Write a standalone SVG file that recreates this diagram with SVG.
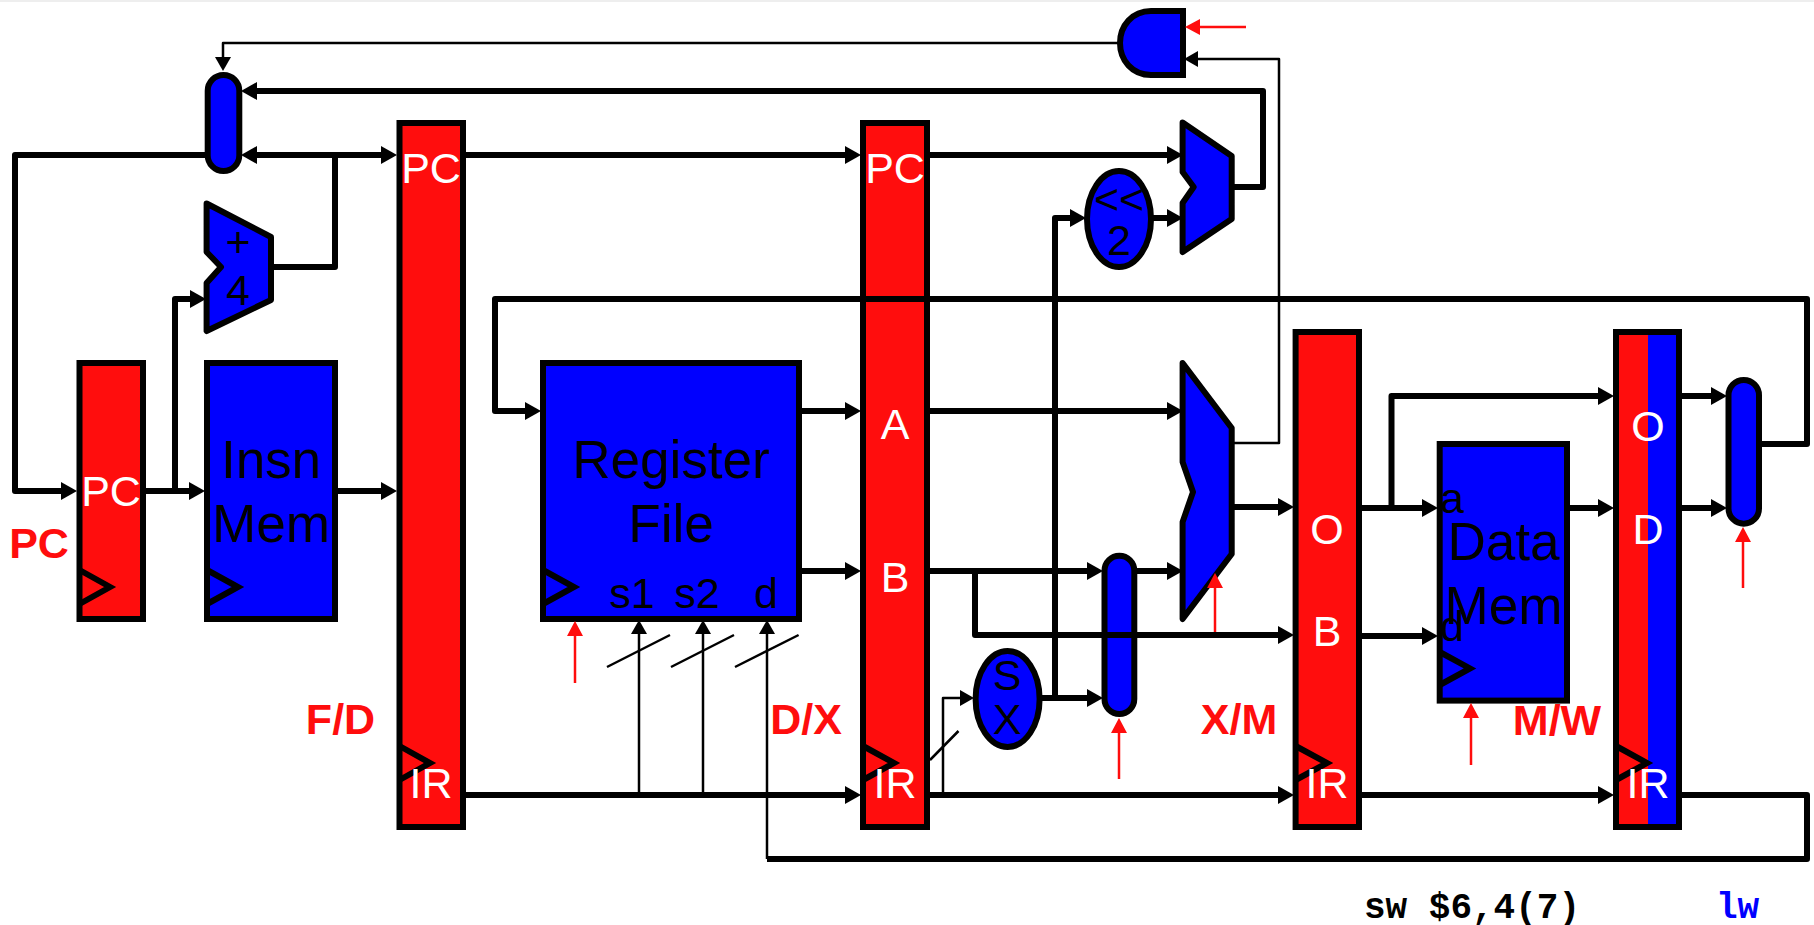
<svg xmlns="http://www.w3.org/2000/svg" width="1814" height="925" viewBox="0 0 1814 925">
<style>
.n{stroke:#000;stroke-width:6;stroke-linejoin:miter}
.r{fill:#ff0d0d}.b{fill:#00f}
.j{stroke-linejoin:round}
.ck{fill:none;stroke:#000;stroke-width:6}
text{font-family:"Liberation Sans",Arial,sans-serif;text-anchor:middle}
.w{fill:#fff;font-size:43px}
.k{fill:#000;font-size:43px}
.l{fill:#000;font-size:53px}
.t{fill:#ff0d0d;font-size:43px;font-weight:bold}
.m{font-family:"Liberation Mono","Courier New",monospace;font-weight:bold;font-size:36px;text-anchor:start}
.c{fill:none;stroke:#000;stroke-linejoin:round}
.c6{stroke-width:6}.c2{stroke-width:2.5}
.rd{fill:none;stroke:#ff0d0d;stroke-width:2.5}
</style>
<defs>
<marker id="a" markerUnits="userSpaceOnUse" viewBox="0 0 16 18" markerWidth="16" markerHeight="18" refX="7" refY="9" orient="auto"><path d="M0 0L16 9L0 18z" fill="#000"/></marker>
<marker id="t" markerUnits="userSpaceOnUse" viewBox="0 0 14 16" markerWidth="14" markerHeight="16" refX="7" refY="8" orient="auto"><path d="M0 0L14 8L0 16z" fill="#000"/></marker>
<marker id="e" markerUnits="userSpaceOnUse" viewBox="0 0 15 16" markerWidth="15" markerHeight="16" refX="8" refY="8" orient="auto"><path d="M0 0L15 8L0 16z" fill="#ff0d0d"/></marker>
</defs>
<rect x="0" y="0" width="1814" height="2" fill="#eeeeee"/>

<g id="pc-reg"><rect class="n r" x="79.5" y="363" width="63.5" height="256"/><path class="ck" d="M79.5 570L110 587L79.5 604"/><text class="w" x="111" y="506">PC</text></g>
<g id="insn-mem"><rect class="n b" x="207" y="363" width="128" height="256"/><path class="ck" d="M207 570L238 587L207 604"/><text class="l" x="271" y="478">Insn</text><text class="l" x="271" y="542">Mem</text></g>
<g id="pc-mux"><rect class="n b" x="207.7" y="75" width="31.6" height="96" rx="15.8"/></g>
<g id="adder"><path class="n b j" d="M206.6 203.5L271 237V300L206.6 331V283L221 267L206.6 252Z"/><text class="k" x="238" y="257">+</text><text class="k" x="238" y="305">4</text></g>
<g id="fd-reg"><rect class="n r" x="399.5" y="123" width="63.5" height="704"/><path class="ck" d="M399.5 746L430 763L399.5 780"/><text class="w" x="431" y="183">PC</text><text class="w" x="431" y="798">IR</text></g>
<g id="reg-file"><rect class="n b" x="543" y="363" width="256" height="256"/><path class="ck" d="M543 570L574 587L543 604"/><text class="l" x="671" y="478">Register</text><text class="l" x="671" y="542">File</text><text class="k" x="632" y="608">s1</text><text class="k" x="697" y="608">s2</text><text class="k" x="766" y="608">d</text></g>
<g id="dx-reg"><rect class="n r" x="863" y="123" width="64" height="704"/><path class="ck" d="M863 746L894 763L863 780"/><text class="w" x="895" y="183">PC</text><text class="w" x="895" y="439">A</text><text class="w" x="895" y="592">B</text><text class="w" x="895" y="798">IR</text></g>
<g id="and-gate"><path class="n b" d="M1183 11V75H1151C1132 75 1120 60 1120 43C1120 26 1132 11 1151 11Z"/></g>
<g id="shift"><ellipse class="n b" cx="1119" cy="219" rx="32" ry="48"/><text class="k" x="1119" y="214">&lt;&lt;</text><text class="k" x="1119" y="255">2</text></g>
<g id="branch-adder"><path class="n b j" d="M1182.6 122.5L1231.7 156V219L1182.6 252V203L1193.7 187L1182.6 172Z"/></g>
<g id="alu"><path class="n b j" d="M1182.6 363L1231.7 428V554L1182.6 619V522L1193 492L1182.6 462Z"/></g>
<g id="sx"><ellipse class="n b" cx="1007.6" cy="699" rx="32" ry="48"/><text class="k" x="1007" y="690">S</text><text class="k" x="1007" y="734">X</text></g>
<g id="alu-mux"><rect class="n b" x="1104.5" y="555.7" width="29.8" height="158.3" rx="14.9"/></g>
<g id="xm-reg"><rect class="n r" x="1295.6" y="332" width="63.4" height="495"/><path class="ck" d="M1295.6 746L1327 763L1295.6 780"/><text class="w" x="1327" y="544">O</text><text class="w" x="1327" y="646">B</text><text class="w" x="1327" y="798">IR</text></g>
<g id="data-mem"><rect class="n b" x="1439.7" y="444" width="127.3" height="256.6"/><path class="ck" d="M1439.7 652L1470 668.4L1439.7 685"/><text class="l" x="1503.5" y="560">Data</text><text class="l" x="1503.5" y="624">Mem</text><text class="k" x="1452" y="513">a</text><text class="k" x="1452" y="641">d</text></g>
<g id="mw-reg"><rect class="r" x="1616" y="332" width="32" height="495"/><rect class="b" x="1648" y="332" width="31" height="495"/><rect class="n" fill="none" x="1616" y="332" width="63" height="495"/><path class="ck" d="M1616 746L1647 763L1616 780"/><text class="w" x="1648" y="441">O</text><text class="w" x="1648" y="544">D</text><text class="w" x="1648" y="798">IR</text></g>
<g id="wb-mux"><rect class="n b" x="1728.5" y="380" width="30.5" height="143.7" rx="15.25"/></g>

<g id="labels">
<text class="t" x="39" y="558">PC</text>
<text class="t" x="340.5" y="734">F/D</text>
<text class="t" x="806" y="734">D/X</text>
<text class="t" x="1239" y="734">X/M</text>
<text class="t" x="1557" y="735">M/W</text>
<text class="m" x="1364" y="918" fill="#000">sw $6,4(7)</text>
<text class="m" x="1716" y="918" fill="#00f">lw</text>
</g>

<g id="connectors">
<g class="c c6">
<path marker-end="url(#a)" d="M205 155H15V491H68"/>
<path marker-end="url(#a)" d="M146 491H196"/>
<path marker-end="url(#a)" d="M175 491V299H197"/>
<path marker-end="url(#a)" d="M338 491H388"/>
<path marker-end="url(#a)" d="M335 155H250"/>
<path marker-end="url(#a)" d="M271 267H335V155H388"/>
<path marker-end="url(#a)" d="M466 155H852"/>
<path marker-end="url(#a)" d="M930 155H1174"/>
<path marker-end="url(#a)" d="M1233 187H1263V91H250"/>
<path marker-end="url(#a)" d="M1055 698V218H1077"/>
<path marker-end="url(#a)" d="M1153 218H1174"/>
<path marker-end="url(#a)" d="M1042 698H1094"/>
<path marker-end="url(#a)" d="M1762 444H1807V299H495V411H532"/>
<path marker-end="url(#a)" d="M802 411H852"/>
<path marker-end="url(#a)" d="M930 411H1174"/>
<path marker-end="url(#a)" d="M802 571H852"/>
<path marker-end="url(#a)" d="M930 571H1094"/>
<path marker-end="url(#a)" d="M975 571V635H1285"/>
<path marker-end="url(#a)" d="M1137 571H1174"/>
<path marker-end="url(#a)" d="M1232 507H1285"/>
<path marker-end="url(#a)" d="M1362 508H1429"/>
<path marker-end="url(#a)" d="M1391.5 508V396H1605"/>
<path marker-end="url(#a)" d="M1570 508H1605"/>
<path marker-end="url(#a)" d="M1362 636H1429"/>
<path marker-end="url(#a)" d="M1682 396H1718"/>
<path marker-end="url(#a)" d="M1682 508H1718"/>
<path marker-end="url(#a)" d="M466 795H852"/>
<path marker-end="url(#a)" d="M930 795H1285"/>
<path marker-end="url(#a)" d="M1362 795H1605"/>
<path d="M1682 795H1807V859H767"/>
</g>
<g class="c c2">
<path marker-end="url(#t)" d="M1118 43H223V64"/>
<path marker-end="url(#t)" d="M1233 443H1279V59H1191"/>
<path marker-end="url(#t)" d="M639 795V627"/>
<path marker-end="url(#t)" d="M703 795V627"/>
<path marker-end="url(#t)" d="M767 859V627"/>
<path marker-end="url(#t)" d="M943 795V698H967"/>
<path d="M607 667L670 635M671 667L734 635M735 667L798.6 635M930 760L958.5 731"/>
</g>
<g class="rd">
<path marker-end="url(#e)" d="M1246 27H1192"/>
<path marker-end="url(#e)" d="M575 683V628"/>
<path marker-end="url(#e)" d="M1215 632V580"/>
<path marker-end="url(#e)" d="M1119 779V725"/>
<path marker-end="url(#e)" d="M1471 765V710"/>
<path marker-end="url(#e)" d="M1743 588V534"/>
</g>
</g>
</svg>
